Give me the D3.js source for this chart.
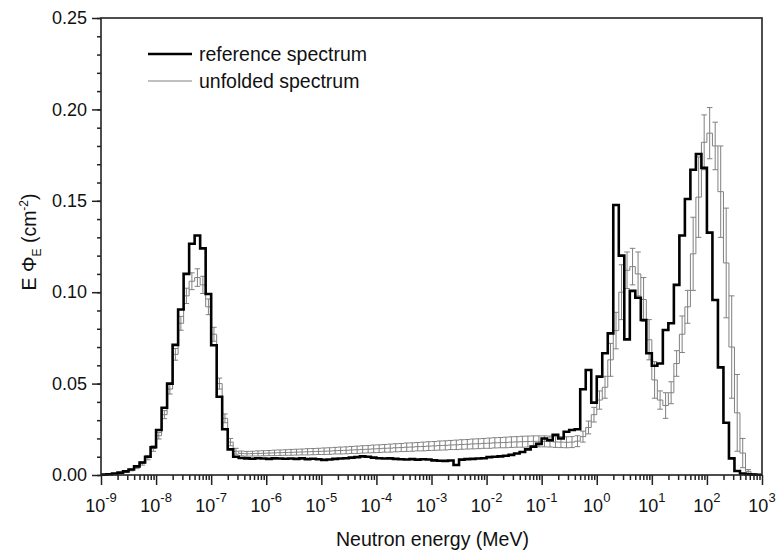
<!DOCTYPE html>
<html>
<head>
<meta charset="utf-8">
<script src="https://cdn.jsdelivr.net/npm/d3@7"></script>
<style>
  html, body { margin: 0; padding: 0; background: #fff; }
  svg { display: block; font-family: "Liberation Sans", Arial, sans-serif; }
</style>
</head>
<body>
<svg id="chart" width="781" height="556"></svg>
<script>
// ---- data ----
const decadeExponents = [-9, -8, -7, -6, -5, -4, -3, -2, -1, 0, 1, 2, 3];
const binsPerDecade = 10;
const yTickValues = [0.00, 0.05, 0.10, 0.15, 0.20, 0.25];
const seriesNames = ["reference spectrum", "unfolded spectrum"];

const referenceSpectrum = [
  0.0002, 0.0004, 0.0008, 0.0013, 0.0020, 0.0030, 0.0047, 0.0068, 0.0100, 0.0152,
  0.0246, 0.0368, 0.0500, 0.0712, 0.0905, 0.1100, 0.1265, 0.1310, 0.1240, 0.0990,
  0.0710, 0.0428, 0.0250, 0.0140, 0.0100, 0.0093, 0.0091, 0.0089, 0.0092, 0.0090,
  0.0088, 0.0091, 0.0090, 0.0089, 0.0090, 0.0088, 0.0091, 0.0087, 0.0089, 0.0086,
  0.0083, 0.0085, 0.0088, 0.0090, 0.0092, 0.0095, 0.0098, 0.0102, 0.0100, 0.0095,
  0.0092, 0.0090, 0.0091, 0.0088, 0.0086, 0.0085, 0.0087, 0.0084, 0.0086, 0.0085,
  0.0080, 0.0078, 0.0077, 0.0079, 0.0055, 0.0084, 0.0087, 0.0088, 0.0090, 0.0092,
  0.0098, 0.0100, 0.0102, 0.0105, 0.0110, 0.0118, 0.0126, 0.0140, 0.0155, 0.0170,
  0.0200, 0.0190, 0.0220, 0.0200, 0.0237, 0.0246, 0.0250, 0.0469, 0.0574, 0.0396,
  0.0538, 0.0666, 0.0775, 0.1477, 0.1200, 0.0742, 0.1007, 0.0970, 0.0848, 0.0666,
  0.0598, 0.0610, 0.0793, 0.0830, 0.1040, 0.1310, 0.1510, 0.1670, 0.1756, 0.1680,
  0.1326, 0.0957, 0.0589, 0.0286, 0.0091, 0.0022, 0.0008, 0.0004, 0.0002, 0.0001
];

const unfoldedSpectrum = [
  0.0002, 0.0004, 0.0007, 0.0011, 0.0018, 0.0028, 0.0042, 0.0063, 0.0095, 0.0145,
  0.0215, 0.0330, 0.0470, 0.0660, 0.0830, 0.0980, 0.1060, 0.1080, 0.1040, 0.0920,
  0.0770, 0.0500, 0.0310, 0.0180, 0.0130, 0.0118, 0.0116, 0.0117, 0.0118, 0.0119,
  0.0120, 0.0121, 0.0122, 0.0123, 0.0124, 0.0125, 0.0126, 0.0127, 0.0128, 0.0129,
  0.0130, 0.0131, 0.0133, 0.0134, 0.0135, 0.0137, 0.0138, 0.0140, 0.0141, 0.0143,
  0.0144, 0.0146, 0.0147, 0.0149, 0.0150, 0.0152, 0.0153, 0.0155, 0.0156, 0.0158,
  0.0159, 0.0161, 0.0162, 0.0164, 0.0165, 0.0167, 0.0168, 0.0170, 0.0171, 0.0173,
  0.0174, 0.0176, 0.0177, 0.0178, 0.0180, 0.0181, 0.0182, 0.0183, 0.0184, 0.0184,
  0.0184, 0.0183, 0.0181, 0.0180, 0.0179, 0.0180, 0.0185, 0.0210, 0.0260, 0.0330,
  0.0410, 0.0480, 0.0630, 0.0790, 0.1000, 0.1120, 0.1140, 0.1100, 0.0960, 0.0740,
  0.0520, 0.0410, 0.0380, 0.0450, 0.0610, 0.0770, 0.0920, 0.1210, 0.1520, 0.1820,
  0.1870, 0.1800, 0.1550, 0.1160, 0.0700, 0.0340, 0.0120, 0.0020, 0.0005, 0.0002
];

const unfoldedError = [
  0.0001, 0.0001, 0.0002, 0.0003, 0.0004, 0.0005, 0.0007, 0.0009, 0.0012, 0.0015,
  0.0018, 0.0022, 0.0027, 0.0032, 0.0038, 0.0042, 0.0046, 0.0048, 0.0047, 0.0043,
  0.0038, 0.0030, 0.0024, 0.0020, 0.0016, 0.0013, 0.0013, 0.0013, 0.0014, 0.0014,
  0.0014, 0.0015, 0.0015, 0.0015, 0.0016, 0.0016, 0.0016, 0.0017, 0.0017, 0.0017,
  0.0018, 0.0018, 0.0018, 0.0019, 0.0019, 0.0019, 0.0020, 0.0020, 0.0020, 0.0021,
  0.0021, 0.0021, 0.0022, 0.0022, 0.0022, 0.0023, 0.0023, 0.0023, 0.0024, 0.0024,
  0.0024, 0.0025, 0.0025, 0.0025, 0.0026, 0.0026, 0.0026, 0.0027, 0.0027, 0.0027,
  0.0028, 0.0028, 0.0028, 0.0029, 0.0029, 0.0029, 0.0030, 0.0030, 0.0030, 0.0030,
  0.0030, 0.0030, 0.0030, 0.0030, 0.0030, 0.0030, 0.0030, 0.0030, 0.0035, 0.0040,
  0.0050, 0.0060, 0.0090, 0.0100, 0.0150, 0.0100, 0.0100, 0.0120, 0.0120, 0.0110,
  0.0100, 0.0050, 0.0070, 0.0060, 0.0070, 0.0100, 0.0090, 0.0200, 0.0220, 0.0150,
  0.0140, 0.0130, 0.0250, 0.0300, 0.0280, 0.0210, 0.0080, 0.0010, 0.0002, 0.0001
];

// ---- layout ----
const svg = d3.select("#chart");
const mLeft = 101, mRight = 762, mTop = 18, mBottom = 475;
const textColor = "#111";

const x = d3.scaleLog().domain([1e-9, 1e3]).range([mLeft, mRight]);
const y = d3.scaleLinear().domain([0, 0.25]).range([mBottom, mTop]);

// bin edges (category boundaries on the energy axis)
const nBins = referenceSpectrum.length;
const edges = d3.range(nBins + 1).map(i => Math.pow(10, decadeExponents[0] + i / binsPerDecade));

function stepPoints(vals) {
  const pts = vals.map((v, i) => [edges[i], v]);
  pts.push([edges[nBins], vals[nBins - 1]]);
  return pts;
}
const stepLine = d3.line().x(d => x(d[0])).y(d => y(d[1])).curve(d3.curveStepAfter);

// ---- unfolded spectrum (gray) with error bars ----
const gray = "#808080";
svg.append("path")
  .attr("d", stepLine(stepPoints(unfoldedSpectrum)))
  .attr("fill", "none").attr("stroke", gray).attr("stroke-width", 1);

const errG = svg.append("g").attr("stroke", gray).attr("stroke-width", 1);
unfoldedSpectrum.forEach((v, i) => {
  const e = unfoldedError[i];
  const xc = x(Math.sqrt(edges[i] * edges[i + 1]));
  const half = (x(edges[i + 1]) - x(edges[i])) * 0.5;
  const lo = Math.max(0, v - e);
  errG.append("line").attr("x1", xc).attr("x2", xc).attr("y1", y(lo)).attr("y2", y(v + e));
  errG.append("line").attr("x1", xc - half).attr("x2", xc + half).attr("y1", y(v + e)).attr("y2", y(v + e));
  errG.append("line").attr("x1", xc - half).attr("x2", xc + half).attr("y1", y(lo)).attr("y2", y(lo));
});

// ---- reference spectrum (black) ----
svg.append("path")
  .attr("d", stepLine(stepPoints(referenceSpectrum)))
  .attr("fill", "none").attr("stroke", "#000").attr("stroke-width", 2.6)
  .attr("stroke-linejoin", "miter");

// ---- frame ----
svg.append("rect")
  .attr("x", mLeft).attr("y", mTop).attr("width", mRight - mLeft).attr("height", mBottom - mTop)
  .attr("fill", "none").attr("stroke", "#222").attr("stroke-width", 1.6);

// ---- y axis ----
const yMinor = d3.range(0, 26).map(i => i / 100);
const yMinorAxis = svg.append("g").attr("transform", `translate(${mLeft},0)`)
  .call(d3.axisLeft(y).tickValues(yMinor).tickSize(4).tickFormat(""));
const yAxis = svg.append("g").attr("transform", `translate(${mLeft},0)`)
  .call(d3.axisLeft(y).tickValues(yTickValues).tickSize(9).tickPadding(5).tickFormat(d3.format(".2f")));
[yMinorAxis, yAxis].forEach(g => {
  g.select(".domain").remove();
  g.selectAll("line").attr("stroke", "#222").attr("stroke-width", 1.5);
});
yAxis.selectAll("text").attr("font-size", 18).attr("fill", textColor)
  .attr("font-family", "Liberation Sans, Arial, sans-serif");

// ---- x axis ----
const majorX = decadeExponents.map(e => Math.pow(10, e));
const minorX = [];
decadeExponents.slice(0, -1).forEach(e => { for (let m = 2; m <= 9; m++) minorX.push(m * Math.pow(10, e)); });
const xMinorAxis = svg.append("g").attr("transform", `translate(0,${mBottom})`)
  .call(d3.axisBottom(x).tickValues(minorX).tickSize(5).tickFormat(""));
const xAxis = svg.append("g").attr("transform", `translate(0,${mBottom})`)
  .call(d3.axisBottom(x).tickValues(majorX).tickSize(10).tickFormat(""));
[xMinorAxis, xAxis].forEach(g => {
  g.select(".domain").remove();
  g.selectAll("line").attr("stroke", "#222").attr("stroke-width", 1.5);
});
// decade labels 10^n
const xl = svg.append("g").attr("fill", textColor);
decadeExponents.forEach(e => {
  const t = xl.append("text").attr("x", x(Math.pow(10, e))).attr("y", 512)
    .attr("text-anchor", "middle").attr("font-size", 18);
  t.append("tspan").text("10");
  t.append("tspan").attr("dy", -10).attr("font-size", 13).text(String(e));
});

// ---- axis titles ----
svg.append("text").attr("x", (mLeft + mRight) / 2 + 1).attr("y", 546)
  .attr("text-anchor", "middle").attr("font-size", 19.5).attr("fill", textColor)
  .text("Neutron energy (MeV)");

const yt = svg.append("text")
  .attr("transform", "translate(36,242) rotate(-90)")
  .attr("text-anchor", "middle").attr("font-size", 19.5).attr("fill", textColor);
yt.append("tspan").text("E \u03A6");
yt.append("tspan").attr("dy", 5).attr("font-size", 12).text("E");
yt.append("tspan").attr("dy", -5).text(" (cm");
yt.append("tspan").attr("dy", -8).attr("font-size", 12).text("-2");
yt.append("tspan").attr("dy", 8).text(")");

// ---- legend ----
const legend = svg.append("g");
const legendRows = [
  { name: seriesNames[0], color: "#000", width: 2.6, yPos: 54 },
  { name: seriesNames[1], color: gray, width: 1, yPos: 81 }
];
legendRows.forEach(r => {
  legend.append("line").attr("x1", 148).attr("x2", 192).attr("y1", r.yPos).attr("y2", r.yPos)
    .attr("stroke", r.color).attr("stroke-width", r.width);
  legend.append("text").attr("x", 199).attr("y", r.yPos + 7).attr("font-size", 19.5)
    .attr("fill", textColor).text(r.name);
});
</script>
</body>
</html>
